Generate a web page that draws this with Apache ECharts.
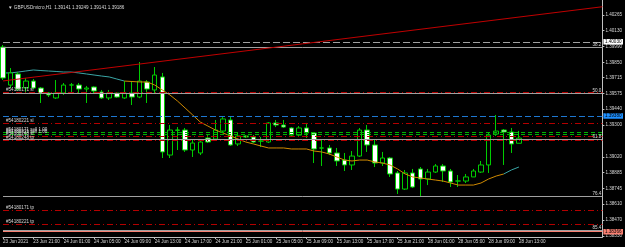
<!DOCTYPE html>
<html><head><meta charset="utf-8">
<script src="https://cdn.jsdelivr.net/npm/echarts@6/dist/echarts.min.js"></script>
<style>html,body{margin:0;padding:0;background:#000;}#c{width:625px;height:247px;}</style>
</head><body><div id="c"></div>
<script>
// ---------- data ----------
const titleText = '\u25BC GBPUSDmicro,H1  1.39141 1.39249 1.39141 1.39186';
const sessions = [['23 Jun', 17, 23], ['24 Jun', 0, 23], ['25 Jun', 0, 23], ['28 Jun', 0, 13]];
const futureBars = 11;
const xTickLabels = ['23 Jun 2021', '23 Jun 21:00', '24 Jun 01:00', '24 Jun 05:00', '24 Jun 09:00', '24 Jun 13:00',
  '24 Jun 17:00', '24 Jun 21:00', '25 Jun 01:00', '25 Jun 05:00', '25 Jun 09:00', '25 Jun 13:00',
  '25 Jun 17:00', '25 Jun 21:00', '28 Jun 01:00', '28 Jun 05:00', '28 Jun 09:00', '28 Jun 13:00'];
const yTickValues = [1.40265, 1.40130, 1.39990, 1.39850, 1.39715, 1.39575, 1.39440, 1.39300,
  1.39020, 1.38885, 1.38745, 1.38610, 1.38470, 1.38330];
const priceMin = 1.38320, priceMax = 1.40396;

// [open, close, low, high]
const candles = [
[1.39984,1.39713,1.39695,1.40002],
[1.39651,1.39757,1.39625,1.39800],
[1.39748,1.39616,1.39599,1.39765],
[1.39625,1.39686,1.39590,1.39713],
[1.39686,1.39625,1.39616,1.39704],
[1.39625,1.39581,1.39494,1.39634],
[1.39581,1.39564,1.39546,1.39590],
[1.39538,1.39581,1.39529,1.39695],
[1.39581,1.39651,1.39564,1.39669],
[1.39651,1.39652,1.39581,1.39669],
[1.39651,1.39616,1.39581,1.39669],
[1.39616,1.39625,1.39494,1.39643],
[1.39634,1.39599,1.39581,1.39640],
[1.39590,1.39538,1.39529,1.39608],
[1.39538,1.39581,1.39520,1.39608],
[1.39581,1.39546,1.39538,1.39590],
[1.39538,1.39581,1.39530,1.39686],
[1.39581,1.39546,1.39476,1.39686],
[1.39546,1.39686,1.39536,1.39853],
[1.39678,1.39616,1.39494,1.39695],
[1.39608,1.39739,1.39581,1.39809],
[1.39722,1.39065,1.39012,1.39757],
[1.39038,1.39257,1.39012,1.39301],
[1.39257,1.39255,1.39082,1.39283],
[1.39257,1.39082,1.39065,1.39275],
[1.39082,1.39143,1.39021,1.39170],
[1.39056,1.39152,1.39038,1.39170],
[1.39187,1.39152,1.39143,1.39213],
[1.39178,1.39257,1.39170,1.39345],
[1.39248,1.39354,1.39240,1.39371],
[1.39345,1.39126,1.39117,1.39371],
[1.39135,1.39205,1.39117,1.39231],
[1.39205,1.39196,1.39187,1.39213],
[1.39196,1.39152,1.39143,1.39213],
[1.39161,1.39160,1.39108,1.39196],
[1.39152,1.39319,1.39143,1.39327],
[1.39319,1.39301,1.39283,1.39345],
[1.39301,1.39283,1.39275,1.39345],
[1.39275,1.39213,1.39205,1.39283],
[1.39213,1.39275,1.39205,1.39292],
[1.39275,1.39231,1.39187,1.39319],
[1.39231,1.39091,1.38968,1.39240],
[1.39100,1.39099,1.38942,1.39170],
[1.39100,1.39056,1.39038,1.39126],
[1.39056,1.38986,1.38942,1.39100],
[1.38994,1.38951,1.38898,1.39056],
[1.38951,1.39029,1.38907,1.39073],
[1.39029,1.39257,1.39021,1.39275],
[1.39257,1.39126,1.39065,1.39301],
[1.39126,1.38968,1.38933,1.39170],
[1.38968,1.39012,1.38942,1.39065],
[1.39012,1.38872,1.38846,1.39021],
[1.38881,1.38740,1.38697,1.38898],
[1.38740,1.38881,1.38732,1.38907],
[1.38881,1.38758,1.38749,1.38916],
[1.38916,1.38828,1.38670,1.38933],
[1.38828,1.38889,1.38775,1.38916],
[1.38889,1.38942,1.38881,1.38959],
[1.38942,1.38898,1.38802,1.38959],
[1.38898,1.38802,1.38758,1.38916],
[1.38810,1.38811,1.38758,1.38863],
[1.38810,1.38846,1.38793,1.38872],
[1.38846,1.38898,1.38846,1.38916],
[1.38889,1.38951,1.38881,1.38986],
[1.38951,1.39213,1.38881,1.39231],
[1.39222,1.39248,1.39205,1.39389],
[1.39257,1.39240,1.38951,1.39266],
[1.39240,1.39135,1.39056,1.39275],
[1.39141,1.39186,1.39141,1.39249]
];

const maTealStartBar = 0;
const maTealA = [1.39757,1.39757,1.39765,1.39774,1.39783,1.39778,1.39774,1.39770,1.39765,1.39765,1.39757,1.39748,1.39739,1.39730,1.39722,1.39704,1.39686];
const maOrangeStartBar = 16;
const maOrange = [1.39686,1.39682,1.39678,1.39678,1.39651,1.39608,1.39564,1.39511,1.39450,1.39389,
  1.39327,1.39292,1.39257,1.39231,1.39205,1.39178,1.39152,1.39135,1.39117,1.39100,
  1.39100,1.39100,1.39091,1.39091,1.39091,1.39073,1.39065,1.39047,1.39021,1.38994,
  1.38986,1.38994,1.38994,1.38977,1.38968,1.38951,1.38916,1.38872,1.38846,1.38837,
  1.38828,1.38819,1.38810,1.38793,1.38775,1.38775,1.38775,1.38793,1.38828,1.38854,1.38872];
const maTealEndStartBar = 66;
const maTealB = [1.38872,1.38907,1.38933];

const trendBars = [0, 79];
const trendPrices = [1.39687, 1.40337];

const orderPrices = [1.39590, 1.39319, 1.39240, 1.39222, 1.39205, 1.39170, 1.38556, 1.38434];
const orderTexts = ['#54180171 sl', '#54180221 sl', '#54180171 sell 1.00', '#54180221 sell 1.00',
  '#54180248 sl', '#54180248 tp', '#54180171 tp', '#54180221 tp'];
const orderKinds = ['stop', 'stop', 'entry', 'entry', 'stop', 'stop', 'stop', 'stop'];

const fibPrices = [1.39980, 1.39581, 1.39180, 1.38679, 1.38380];
const fibTexts = ['38.2', '50.0', '61.8', '76.4', '85.4'];

const hLinePrice = 1.40030;   // grey dashed horizontal line
const bluePrice = 1.39380;    // blue dashed line
const askPrice = 1.39225;     // red price box
const bidPrice = 1.39186;     // white price box
const salmonPrice = 1.38366;  // salmon line

// ---------- build ----------
const categories = [];
sessions.forEach(([d, h0, h1]) => { for (let h = h0; h <= h1; h++) categories.push(d + ' ' + String(h).padStart(2, '0') + ':00'); });
for (let i = 0; i < futureBars; i++) categories.push('future' + i);
const nBars = candles.length;

function placed(start, arr) {
  const out = new Array(nBars).fill(null);
  arr.forEach((v, i) => { out[start + i] = v; });
  return out;
}

const FONT = 'Liberation Sans';
const FS = 4.6;
const txtCol = '#d8d8d8';
const redDashDot = [6, 3, 1, 3];

const ml = [];
fibPrices.forEach((p, i) => {
  ml.push({ yAxis: p, lineStyle: { color: '#a0a0a0', width: 1, type: 'solid' },
    label: { show: true, position: 'insideEndTop', formatter: fibTexts[i], color: txtCol, fontSize: FS, fontFamily: FONT, distance: [1, 0] } });
});
orderPrices.forEach((p, i) => {
  const entry = orderKinds[i] === 'entry';
  ml.push({ yAxis: p, lineStyle: { color: entry ? '#00b400' : '#b40000', width: 1, type: entry ? [4, 3] : redDashDot },
    label: { show: true, position: 'insideStartTop', formatter: orderTexts[i], color: txtCol, fontSize: FS, fontFamily: FONT, distance: [3, 0] } });
});
function box(p, bg, fg, lineStyle) {
  return { yAxis: p, lineStyle: lineStyle || { opacity: 0 },
    label: { show: true, position: 'end', formatter: p.toFixed(5), color: fg, backgroundColor: bg, padding: [0.5, 1.5, 0, 1.5],
      fontSize: FS, fontFamily: FONT, distance: 1 } };
}
ml.push(box(hLinePrice, '#ffffff', '#000000', { color: '#a0a0a0', width: 1, type: [7, 3] }));
ml.push(box(bluePrice, '#1e90ff', '#000000', { color: '#1e78d2', width: 1, type: [6, 3] }));
ml.push(box(askPrice, '#ff0000', '#000000'));
ml.push(box(bidPrice, '#ffffff', '#000000'));
ml.push(box(salmonPrice, '#fa8072', '#000000', { color: '#fa8072', width: 1, type: 'solid' }));
// trend line
ml.push([{ coord: [trendBars[0], trendPrices[0]], lineStyle: { color: '#c00000', width: 1, type: 'solid' }, label: { show: false } },
         { coord: [trendBars[1], trendPrices[1]] }]);

const chart = echarts.init(document.getElementById('c'), null, { renderer: 'canvas' });
chart.setOption({
  backgroundColor: '#000000',
  animation: false,
  title: { text: titleText, left: 3, top: 0, textStyle: { color: txtCol, fontSize: FS, fontWeight: 'normal', fontFamily: FONT } },
  grid: { left: 1, right: 22, top: 0, bottom: 10, containLabel: false },
  xAxis: {
    type: 'category', data: categories, boundaryGap: false,
    axisLine: { lineStyle: { color: '#c0c0c0', width: 1 } },
    axisTick: { show: true, length: 2, interval: (i) => i % 4 === 0 && i / 4 < xTickLabels.length, lineStyle: { color: '#c0c0c0' } },
    axisLabel: { interval: (i) => i % 4 === 0 && i / 4 < xTickLabels.length, formatter: (v, i) => xTickLabels[i / 4] || '',
      color: txtCol, fontSize: FS, fontFamily: FONT, align: 'left', margin: 2 },
    splitLine: { show: false }
  },
  yAxis: {
    type: 'value', position: 'right', min: priceMin, max: priceMax, scale: true,
    axisLine: { show: true, lineStyle: { color: '#c0c0c0', width: 1 } },
    axisTick: { show: true, length: 2, customValues: yTickValues, lineStyle: { color: '#c0c0c0' } },
    axisLabel: { customValues: yTickValues, formatter: (v) => v.toFixed(5), color: txtCol, fontSize: FS, fontFamily: FONT, margin: 3 },
    splitLine: { show: false }
  },
  series: [
    { type: 'line', name: 'levels', data: placed(maTealStartBar, maTealA), showSymbol: false, z: 2,
      lineStyle: { color: '#3aa6a6', width: 1 },
      markLine: { symbol: ['none', 'none'], silent: true, animation: false, precision: 5, data: ml } },
    { type: 'candlestick', data: candles, barWidth: 5, z: 3,
      itemStyle: { color: '#000000', color0: '#ffffff', borderColor: '#00cc00', borderColor0: '#00cc00', borderWidth: 1 } },
    { type: 'line', data: placed(maOrangeStartBar, maOrange), showSymbol: false, z: 4, lineStyle: { color: '#d08a00', width: 1 } },
    { type: 'line', data: placed(maTealEndStartBar, maTealB), showSymbol: false, z: 4, lineStyle: { color: '#3aa6a6', width: 1 } }
  ]
});
</script></body></html>
